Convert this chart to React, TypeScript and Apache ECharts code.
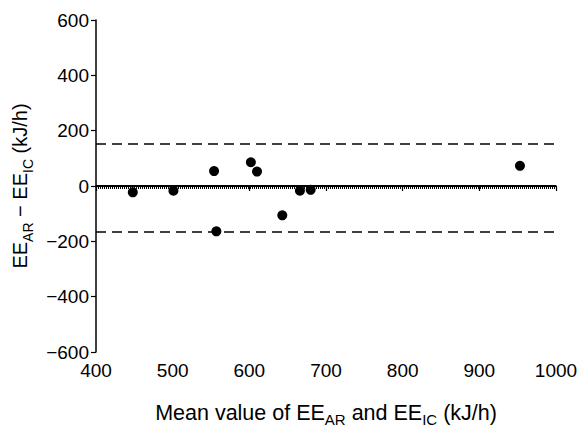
import React, { useEffect, useRef } from "react";
import * as echarts from "echarts";

const meanValues = [448, 501, 554, 557, 602, 610, 643, 666, 680, 953];
const differences = [-23, -17, 54, -164, 86, 52, -106, -17, -14, 73];
const meanBias = -8;
const upperLimit = 151;
const lowerLimit = -167;
const zeroLine = 0;

export default function App() {
  const ref = useRef<HTMLDivElement>(null);
  useEffect(() => {
    if (!ref.current) return;
    const chart = echarts.init(ref.current, null, { renderer: "svg" });
    const font = "'Liberation Sans', Arial, sans-serif";
    const richY = {
      a: { fontSize: 20, fontFamily: font, color: "#000", lineHeight: 24, verticalAlign: "bottom" as const },
      s: { fontSize: 14, fontFamily: font, color: "#000", lineHeight: 24, verticalAlign: "bottom" as const, padding: [0, 0, -5, 0] },
    };
    const richX = {
      a: { fontSize: 21.5, fontFamily: font, color: "#000", lineHeight: 22, verticalAlign: "bottom" as const },
      s: { fontSize: 15, fontFamily: font, color: "#000", lineHeight: 22, verticalAlign: "bottom" as const, padding: [0, 0, -3, 0] },
    };
    const data = meanValues.map((x, i) => [x, differences[i]]);
    chart.setOption({
      animation: false,
      grid: { left: 96, right: 26, top: 20, bottom: 75, outerBoundsMode: "none", containLabel: false },
      xAxis: {
        type: "value",
        min: 400,
        max: 1000,
        interval: 100,
        splitLine: { show: false },
        axisLine: { lineStyle: { color: "#000", width: 1.5 } },
        axisTick: { show: true, length: 5, lineStyle: { color: "#000", width: 1.2 } },
        axisLabel: { color: "#000", fontSize: 19, fontFamily: font, margin: 9, formatter: (v: number) => String(v) },
        name: "{a|Mean value of EE}{s|AR}{a| and EE}{s|IC}{a| (kJ/h)}",
        nameLocation: "middle",
        nameGap: 50,
        nameTextStyle: { rich: richX, fontSize: 21.5, fontFamily: font },
      },
      yAxis: {
        type: "value",
        min: -600,
        max: 600,
        interval: 200,
        splitLine: { show: false },
        axisLine: { lineStyle: { color: "#000", width: 1.5 } },
        axisTick: { show: true, length: 5, lineStyle: { color: "#000", width: 1.2 } },
        axisLabel: {
          color: "#000",
          fontSize: 19,
          fontFamily: font,
          margin: 7,
          formatter: (v: number) => (v < 0 ? "\u2212" + Math.abs(v) : String(v)),
        },
        name: "{a|EE}{s|AR}{a| \u2212 EE}{s|IC}{a| (kJ/h)}",
        nameLocation: "middle",
        nameGap: 64,
        nameTextStyle: { rich: richY, fontSize: 20, fontFamily: font },
      },
      series: [
        {
          type: "scatter",
          data,
          symbolSize: 10,
          itemStyle: { color: "#000", opacity: 1 },
          z: 5,
          markLine: {
            silent: true,
            symbol: "none",
            label: { show: false },
            data: [
              { yAxis: zeroLine, lineStyle: { type: "solid", width: 2, color: "#000" } },
              { yAxis: meanBias, lineStyle: { type: [1, 1], width: 2, color: "#000" } },
              { yAxis: upperLimit, lineStyle: { type: [10, 6], width: 1.5, color: "#000" } },
              { yAxis: lowerLimit, lineStyle: { type: [10, 6], width: 1.5, color: "#000" } },
            ],
          },
        },
      ],
    });
    return () => chart.dispose();
  }, []);
  return <div ref={ref} style={{ width: 582, height: 427, position: "absolute", left: 0, top: 0 }} />;
}
